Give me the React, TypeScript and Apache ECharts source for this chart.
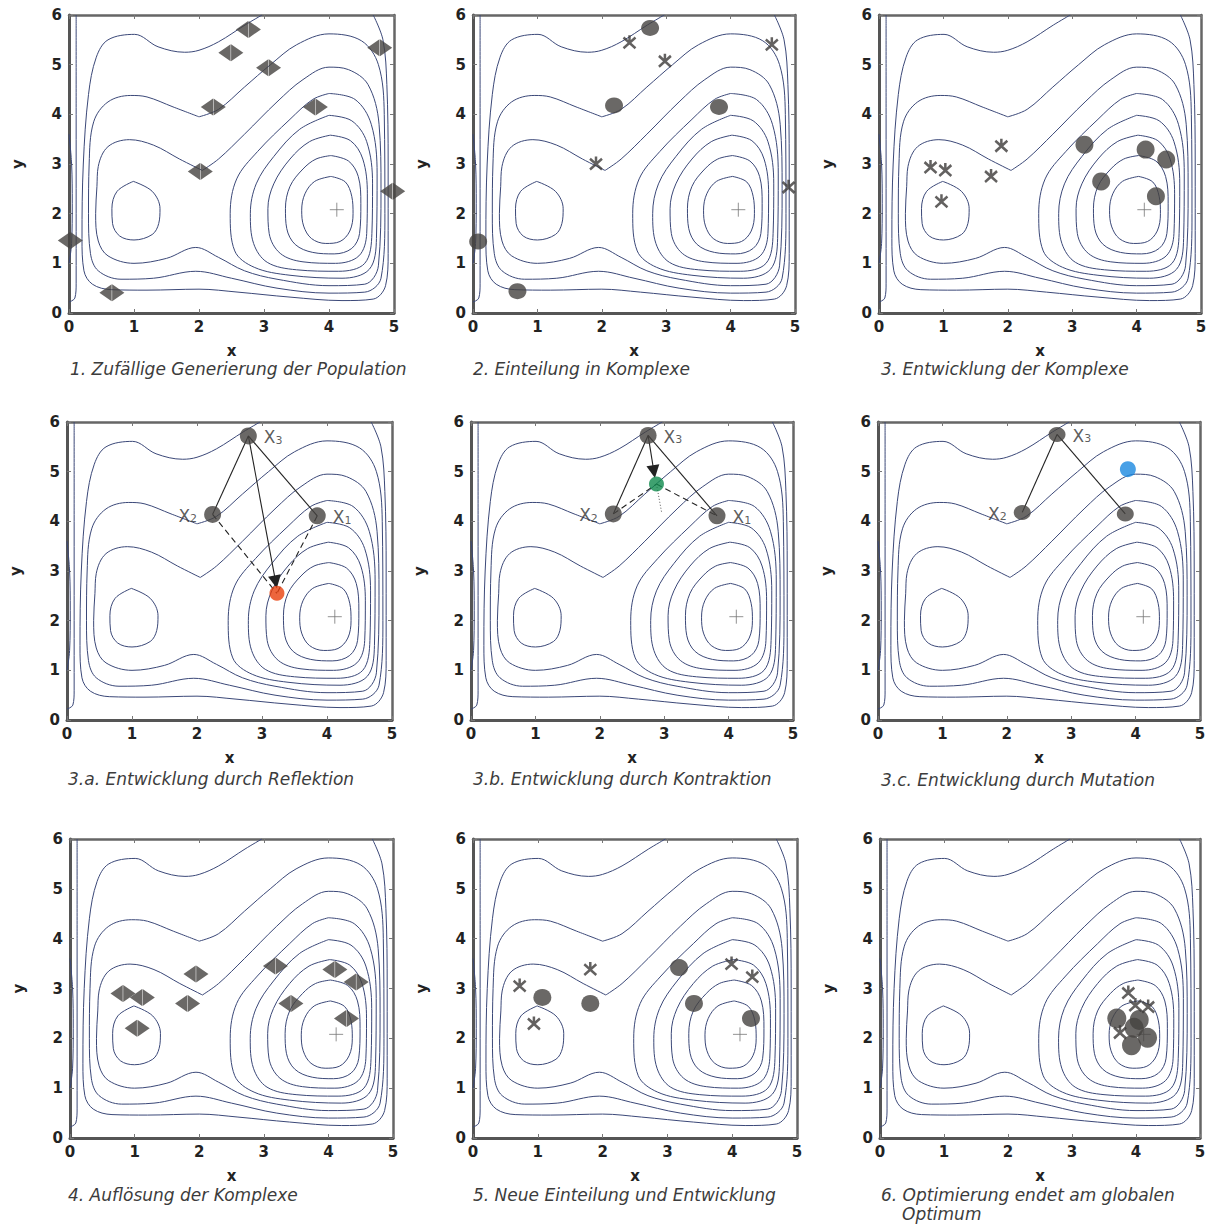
import React, { useEffect, useRef } from 'react';
import * as echarts from 'echarts';

// ---------- contour lines of the objective function (data units) ----------
const contourR1 = [[4.03,2.75],[4.25,2.64],[4.35,2.35],[4.37,2.0],[4.32,1.65],[4.17,1.44],[3.95,1.40],[3.73,1.5],[3.61,1.75],[3.58,2.07],[3.63,2.4],[3.78,2.65],[4.03,2.75]];
const contourR2 = [[4.03,3.17],[4.3,3.06],[4.45,2.75],[4.49,2.2],[4.47,1.6],[4.35,1.3],[4.08,1.19],[3.75,1.22],[3.48,1.38],[3.35,1.7],[3.33,2.1],[3.4,2.55],[3.6,2.9],[3.8,3.1],[4.03,3.17]];
const contourR3 = [[4.02,3.58],[4.33,3.47],[4.52,3.1],[4.59,2.4],[4.58,1.6],[4.46,1.15],[4.1,1.0],[3.6,1.03],[3.25,1.2],[3.08,1.6],[3.06,2.1],[3.15,2.6],[3.4,3.1],[3.7,3.45],[4.02,3.58]];
const contourR4 = [[4.0,3.98],[4.35,3.87],[4.58,3.45],[4.67,2.6],[4.66,1.6],[4.55,1.0],[4.15,0.84],[3.5,0.87],[3.05,1.02],[2.84,1.4],[2.79,2.0],[2.88,2.6],[3.15,3.15],[3.55,3.7],[4.0,3.98]];
const contourR5 = [[4.0,4.42],[4.4,4.3],[4.65,3.8],[4.74,2.8],[4.73,1.5],[4.62,0.88],[4.2,0.7],[3.4,0.76],[2.85,0.92],[2.55,1.25],[2.48,2.0],[2.58,2.7],[2.9,3.25],[3.4,3.9],[3.75,4.3],[4.0,4.42]];
const contourL1 = [[0.99,2.65],[1.28,2.45],[1.4,2.1],[1.38,1.8],[1.28,1.58],[1.0,1.47],[0.78,1.55],[0.67,1.8],[0.66,2.1],[0.74,2.45],[0.99,2.65]];
const contourB0 = [[2.05,2.87],[1.7,3.1],[1.3,3.38],[0.93,3.49],[0.6,3.35],[0.45,2.95],[0.43,2.55],[0.41,2.0],[0.45,1.45],[0.6,1.15],[1.0,1.0],[1.5,1.1],[1.95,1.32],[2.3,1.12],[2.7,0.85],[3.2,0.68],[4.0,0.55],[4.55,0.58],[4.76,0.95],[4.8,2.5],[4.77,3.8],[4.6,4.6],[4.3,4.9],[4.0,4.95],[3.6,4.7],[3.2,4.25],[2.7,3.6],[2.3,3.1],[2.05,2.87]];
const contourB1 = [[2.0,3.95],[1.6,4.15],[1.2,4.35],[0.95,4.38],[0.6,4.25],[0.38,3.85],[0.31,3.0],[0.3,2.0],[0.33,1.2],[0.45,0.85],[0.8,0.68],[1.3,0.7],[1.95,0.84],[2.5,0.7],[3.2,0.5],[4.0,0.4],[4.55,0.42],[4.8,0.7],[4.86,2.0],[4.85,4.0],[4.76,5.0],[4.5,5.48],[4.0,5.62],[3.5,5.4],[3.1,5.0],[2.7,4.55],[2.3,4.1],[2.0,3.95]];
const contourO = [[2.97,6.0],[2.71,5.8],[2.3,5.46],[2.0,5.29],[1.78,5.25],[1.37,5.36],[1.01,5.61],[0.6,5.5],[0.42,5.15],[0.3,4.4],[0.22,3.0],[0.2,1.5],[0.23,0.85],[0.36,0.58],[0.65,0.47],[1.2,0.46],[2.0,0.48],[2.6,0.42],[3.4,0.32],[4.2,0.25],[4.68,0.28],[4.87,0.55],[4.91,1.2],[4.91,3.0],[4.89,4.6],[4.83,5.5],[4.68,6.0]];
const contourE1 = [[0.11,6.0],[0.11,4.0],[0.11,2.0],[0.11,0.6],[0.09,0.3],[0.0,0.22]];
const contourE2 = [[0.0,3.6],[0.04,3.0],[0.05,2.2],[0.04,1.4],[0.0,1.0]];
const contours = [contourR1, contourR2, contourR3, contourR4, contourR5, contourL1, contourB0, contourB1, contourO, contourE1, contourE2];

const globalOptimum = [[4.12, 2.08]];

// ---------- population per panel ----------
const p1Points = [[2.76,5.71],[2.49,5.24],[3.07,4.94],[2.22,4.15],[3.79,4.15],[4.78,5.34],[2.02,2.85],[4.98,2.45],[0.02,1.46],[0.66,0.41]];
const p2Circles = [[2.75,5.74],[2.19,4.18],[3.82,4.15],[0.08,1.44],[0.69,0.44]];
const p2Stars = [[2.43,5.46],[2.98,5.09],[4.64,5.42],[1.91,3.02],[4.90,2.55]];
const p3Circles = [[3.19,3.39],[4.14,3.29],[4.46,3.09],[3.45,2.65],[4.30,2.35]];
const p3Stars = [[0.80,2.95],[1.03,2.89],[0.97,2.26],[1.74,2.77],[1.90,3.38]];
const p4X3 = [2.79,5.72];
const p4X2 = [2.24,4.14];
const p4X1 = [3.85,4.11];
const p4Reflection = [3.23,2.55];
const p4ArrowEnd = [3.21,2.78];
const p5X3 = [2.75,5.73];
const p5X2 = [2.21,4.15];
const p5X1 = [3.82,4.11];
const p5Contraction = [2.88,4.75];
const p5ArrowEnd = [2.84,5.0];
const p5DotEnd = [2.96,4.18];
const p6X3 = [2.78,5.75];
const p6X2 = [2.24,4.18];
const p6X1 = [3.84,4.15];
const p6Mutation = [3.88,5.05];
const p7Points = [[0.82,2.90],[1.12,2.82],[1.04,2.20],[1.95,3.29],[1.82,2.70],[3.18,3.45],[3.42,2.70],[4.10,3.38],[4.43,3.13],[4.28,2.40]];
const p8Circles = [[1.07,2.82],[1.81,2.70],[3.18,3.42],[3.41,2.70],[4.29,2.40]];
const p8Stars = [[0.72,3.07],[0.94,2.31],[1.81,3.40],[3.99,3.51],[4.31,3.25]];
const p9Circles = [[3.70,2.40],[4.05,2.37],[3.97,2.21],[4.18,2.01],[3.93,1.86]];
const p9Stars = [[3.88,2.93],[3.99,2.68],[4.19,2.65],[3.75,2.13]];

const captions = [
  '1. Zufällige Generierung der Population',
  '2. Einteilung in Komplexe',
  '3. Entwicklung der Komplexe',
  '3.a. Entwicklung durch Reflektion',
  '3.b. Entwicklung durch Kontraktion',
  '3.c. Entwicklung durch Mutation',
  '4. Auflösung der Komplexe',
  '5. Neue Einteilung und Entwicklung',
  '6. Optimierung endet am globalen',
];
const captionExtra = 'Optimum';

// ---------- layout ----------
const boxes = [
  [69, 15, 394, 313], [473, 15, 795, 313], [879, 15, 1201, 313],
  [67, 422, 392, 720], [471, 422, 793, 720], [878, 422, 1200, 720],
  [70, 839, 393, 1138], [473, 839, 797, 1138], [880, 839, 1200, 1138],
];
const capPos = [
  [70, 360], [473, 360], [881, 360],
  [68, 770], [473, 770], [881, 771],
  [68, 1186], [473, 1186], [881, 1186],
];

const FONT = '"DejaVu Sans", sans-serif';
const DARK = '#454240';
const CONTOUR = '#3b4878';
const DIAMOND = 'path://M0,6 L6,0 L6,12 Z M6.25,0 L12.25,6 L6.25,12 Z';
const STAR = 'path://M0,2 L10,12 M10,2 L0,12 M5,0 L5,8';
const PLUS = 'path://M0,5 L10,5 M5,0 L5,10';

const labelRich = {
  a: { fontSize: 17, color: '#333', fontFamily: FONT, verticalAlign: 'bottom', lineHeight: 20 },
  b: { fontSize: 11, color: '#333', fontFamily: FONT, verticalAlign: 'bottom', lineHeight: 16 },
};

function buildOption() {
  const grid: any[] = [];
  const xAxis: any[] = [];
  const yAxis: any[] = [];
  const series: any[] = [];
  const graphic: any[] = [];

  boxes.forEach((b, i) => {
    const [x0, y0, x1, y1] = b;
    grid.push({ left: x0, top: y0, width: x1 - x0, height: y1 - y0 });
    xAxis.push({
      gridIndex: i, type: 'value', min: 0, max: 5, interval: 1, position: 'bottom',
      axisLine: { onZero: false, lineStyle: { color: '#555', width: 3 } },
      axisTick: { inside: true, length: 4, lineStyle: { color: '#777' } },
      axisLabel: { margin: 6, fontSize: 15, fontWeight: 'bold', color: '#222', fontFamily: FONT },
      splitLine: { show: false },
      name: 'x', nameLocation: 'middle', nameGap: 30,
      nameTextStyle: { fontSize: 15, fontWeight: 'bold', color: '#222', fontFamily: FONT },
    });
    xAxis.push({
      gridIndex: i, type: 'value', min: 0, max: 5, interval: 1, position: 'top',
      axisLine: { onZero: false, lineStyle: { color: '#666', width: 2.5 } },
      axisTick: { inside: true, length: 4, lineStyle: { color: '#777' } },
      axisLabel: { show: false }, splitLine: { show: false },
    });
    yAxis.push({
      gridIndex: i, type: 'value', min: 0, max: 6, interval: 1, position: 'left',
      axisLine: { onZero: false, lineStyle: { color: '#555', width: 3 } },
      axisTick: { inside: true, length: 4, lineStyle: { color: '#777' } },
      axisLabel: { margin: 7, fontSize: 15, fontWeight: 'bold', color: '#222', fontFamily: FONT },
      splitLine: { show: false },
      name: 'y', nameLocation: 'middle', nameGap: 44, nameRotate: 90,
      nameTextStyle: { fontSize: 15, fontWeight: 'bold', color: '#222', fontFamily: FONT },
    });
    yAxis.push({
      gridIndex: i, type: 'value', min: 0, max: 6, interval: 1, position: 'right',
      axisLine: { onZero: false, lineStyle: { color: '#666', width: 2.5 } },
      axisTick: { inside: true, length: 4, lineStyle: { color: '#777' } },
      axisLabel: { show: false }, splitLine: { show: false },
    });

    const ax = { xAxisIndex: 2 * i, yAxisIndex: 2 * i };
    contours.forEach((c) => {
      series.push({
        type: 'line', ...ax, data: c, smooth: 0.35, symbol: 'none', silent: true,
        lineStyle: { color: CONTOUR, width: 1 }, clip: true, z: 1,
      });
    });
    series.push({
      type: 'scatter', ...ax, data: globalOptimum, symbol: PLUS, symbolSize: 14, silent: true,
      itemStyle: { color: 'none', borderColor: '#777', borderWidth: 1 }, z: 2,
    });

    graphic.push({
      type: 'text', left: capPos[i][0], top: capPos[i][1],
      style: { text: captions[i], font: `italic 17px ${FONT}`, fill: '#3c3c3c' },
    });
  });

  graphic.push({
    type: 'text', left: 902, top: 1205,
    style: { text: captionExtra, font: `italic 17px ${FONT}`, fill: '#3c3c3c' },
  });

  const ax = (i: number) => ({ xAxisIndex: 2 * i, yAxisIndex: 2 * i });
  const diamonds = (i: number, d: number[][]) => ({
    type: 'scatter', ...ax(i), data: d, symbol: DIAMOND, symbolSize: [25, 17], z: 5,
    itemStyle: { color: DARK },
  });
  const circles = (i: number, d: number[][], size: any = [18, 16]) => ({
    type: 'scatter', ...ax(i), data: d, symbol: 'circle', symbolSize: size, z: 5,
    itemStyle: { color: DARK },
  });
  const stars = (i: number, d: number[][]) => ({
    type: 'scatter', ...ax(i), data: d, symbol: STAR, symbolSize: [12, 13], z: 6,
    itemStyle: { color: 'none', borderColor: '#3c3a38', borderWidth: 2.6 },
  });
  const segs = (i: number, pairs: number[][][], style: any, sym: any = 'none') => ({
    type: 'lines', coordinateSystem: 'cartesian2d', ...ax(i), z: 4,
    data: pairs.map((p) => ({ coords: p })),
    lineStyle: { opacity: 1, curveness: 0, ...style },
    symbol: sym, symbolSize: 13,
    itemStyle: { color: '#111' },
  });
  const named = (i: number, pt: number[], sub: string, pos: string, color = DARK, size: any = 17) => ({
    type: 'scatter', ...ax(i), z: 7, symbol: 'circle', symbolSize: size,
    data: [{
      value: pt,
      label: sub ? {
        show: true, position: pos, distance: 7,
        formatter: `{a|X}{b|${sub}}`, rich: labelRich,
      } : { show: false },
    }],
    itemStyle: { color },
  });

  // Panel 1
  series.push(diamonds(0, p1Points));
  // Panel 2
  series.push(circles(1, p2Circles), stars(1, p2Stars));
  // Panel 3
  series.push(circles(2, p3Circles, [18, 18]), stars(2, p3Stars));
  // Panel 4 - reflection
  series.push(segs(3, [[p4X3, p4X2], [p4X3, p4X1]], { color: '#222', width: 1.1 }));
  series.push(segs(3, [[p4X2, p4Reflection], [p4X1, p4Reflection]], { color: '#222', width: 1.1, type: [6, 4] }));
  series.push(segs(3, [[p4X3, p4ArrowEnd]], { color: '#222', width: 1.1 }, ['none', 'triangle']));
  series.push(named(3, p4X3, '3', 'right'), named(3, p4X2, '2', 'left'), named(3, p4X1, '1', 'right'));
  series.push(named(3, p4Reflection, '', 'right', '#e8400c', 15));
  // Panel 5 - contraction
  series.push(segs(4, [[p5X3, p5X2], [p5X3, p5X1]], { color: '#222', width: 1.1 }));
  series.push(segs(4, [[p5X2, p5Contraction], [p5Contraction, p5X1]], { color: '#222', width: 1.1, type: [6, 4] }));
  series.push(segs(4, [[p5Contraction, p5DotEnd]], { color: '#555', width: 1, type: [1, 2] }));
  series.push(segs(4, [[p5X3, p5ArrowEnd]], { color: '#222', width: 1.1 }, ['none', 'triangle']));
  series.push(named(4, p5X3, '3', 'right'), named(4, p5X2, '2', 'left'), named(4, p5X1, '1', 'right'));
  series.push(named(4, p5Contraction, '', 'right', '#0f8a4c', 15));
  // Panel 6 - mutation
  series.push(segs(5, [[p6X3, p6X2], [p6X3, p6X1]], { color: '#222', width: 1.1 }));
  series.push(named(5, p6X3, '3', 'right', DARK, [17, 15]), named(5, p6X2, '2', 'left', DARK, [17, 15]), named(5, p6X1, '', 'right', DARK, [17, 15]));
  series.push(named(5, p6Mutation, '', 'right', '#1a88e0', 16));
  // Panel 7
  series.push(diamonds(6, p7Points));
  // Panel 8
  series.push(circles(7, p8Circles, [18, 17]), stars(7, p8Stars));
  // Panel 9
  series.push(circles(8, p9Circles, [19, 20]), stars(8, p9Stars));

  return { animation: false, backgroundColor: '#ffffff', grid, xAxis, yAxis, series, graphic };
}

export default function App() {
  const ref = useRef<HTMLDivElement>(null);
  useEffect(() => {
    if (!ref.current) return;
    const chart = echarts.init(ref.current, undefined, { renderer: 'svg' });
    chart.setOption(buildOption() as any);
    return () => chart.dispose();
  }, []);
  return (
    <div
      ref={ref}
      style={{ position: 'absolute', left: 0, top: 0, width: 1214, height: 1224, background: '#fff' }}
    />
  );
}
